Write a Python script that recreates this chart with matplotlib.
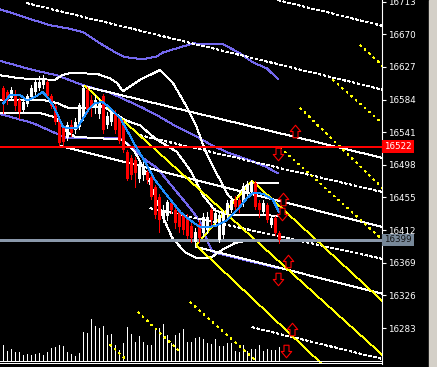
import matplotlib
matplotlib.use('Agg')
import matplotlib.pyplot as plt
import matplotlib.transforms as mtransforms
from matplotlib.patches import Rectangle
from matplotlib.path import Path
import numpy as np

plt.rcParams['lines.antialiased'] = False

# ---------------- data ----------------
opens = [16599,16594,16586,16592,16583,16570,16578,16587,16594,16599,
         16603,16607,16589,16575,16557,16546,16534,16550,16544,16548,
         16560,16596,16583,16573,16565,16589,16550,16554,16566,16560,
         16550,16515,16507,16504,16480,16484,16488,16482,16469,16456,
         16428,16431,16448,16438,16436,16432,16429,16417,16396,16420,
         16408,16412,16438,16421,16399,16405,16432,16438,16452,16452,
         16448,16461,16462,16474,16448,16436,16445,16419,16428,16408]
closes = [16583,16583,16596,16575,16567,16581,16589,16599,16607,16607,
          16611,16589,16575,16554,16527,16528,16550,16540,16554,16577,
          16599,16570,16575,16583,16581,16544,16562,16567,16544,16530,
          16517,16480,16484,16487,16498,16494,16478,16456,16432,16425,
          16437,16449,16438,16421,16416,16412,16404,16401,16409,16401,
          16429,16429,16425,16434,16432,16434,16448,16452,16442,16441,
          16470,16473,16475,16442,16438,16448,16425,16428,16408,16399]
highs = [16602,16596,16600,16596,16586,16583,16591,16603,16612,16615,
         16616,16610,16591,16578,16560,16549,16554,16557,16560,16579,
         16603,16600,16590,16590,16586,16592,16567,16570,16570,16563,
         16557,16517,16511,16508,16502,16504,16491,16484,16471,16460,
         16445,16452,16452,16442,16438,16434,16433,16422,16415,16425,
         16434,16436,16441,16441,16436,16438,16452,16457,16457,16456,
         16474,16477,16478,16477,16452,16452,16448,16432,16431,16411]
lows = [16566,16578,16583,16570,16560,16566,16575,16585,16590,16596,
        16599,16586,16573,16552,16521,16524,16531,16536,16540,16545,
        16557,16566,16563,16566,16560,16540,16546,16550,16540,16527,
        16515,16478,16480,16469,16475,16478,16474,16453,16428,16409,
        16423,16425,16435,16415,16409,16407,16401,16396,16391,16396,
        16404,16408,16420,16417,16396,16401,16428,16436,16438,16436,
        16444,16457,16460,16440,16429,16433,16423,16416,16405,16395]
volumes = [160,100,120,90,90,60,70,60,70,80,
           60,90,130,140,160,150,90,70,50,80,
           290,280,420,350,330,350,260,270,160,110,
           180,340,270,190,250,190,160,160,310,330,
           370,260,180,260,280,320,190,190,230,240,
           220,180,170,220,150,150,180,180,100,90,
           160,100,120,120,160,100,120,110,110,140]

price_ticks = [16283, 16326, 16369, 16412, 16455, 16498, 16541, 16584, 16627, 16670, 16713]
red_level = 16522
last_price = 16399

# Bollinger-type bands (white)
bb_hi_x = [-0.8, 4.2, 12.9, 14.7, 16.7, 23.4, 26.7, 28.4, 29.9, 34.2, 39.2, 42.4, 45.9, 48.4, 50.4, 52.2, 54.2, 56.2, 57.9, 59.7, 61.7, 68.7]
bb_hi_y = [16616, 16612, 16610, 16616, 16619, 16618, 16612, 16606, 16595, 16610, 16623, 16606, 16574, 16547, 16518, 16498, 16478, 16458, 16449, 16465, 16474, 16474]
bb_mid_x = [-0.8, 10.4, 13.7, 16.2, 20.4, 24.9, 27.9, 30.4, 34.2, 37.9, 43.4, 46.7, 49.9, 52.9, 56.7, 61.7, 68.9]
bb_mid_y = [16583, 16583, 16579, 16573, 16573, 16575, 16566, 16557, 16550, 16533, 16515, 16491, 16458, 16438, 16432, 16432, 16431]
bb_lo_x = [-0.8, 9.2, 12.9, 15.4, 17.9, 24.2, 29.9, 32.9, 35.9, 39.7, 42.2, 45.4, 48.4, 51.7, 54.7, 57.9, 61.7, 68.9]
bb_lo_y = [16566, 16566, 16561, 16544, 16535, 16533, 16531, 16515, 16485, 16432, 16402, 16383, 16375, 16375, 16386, 16395, 16399, 16399]

# envelope bands (slate blue)
env_hi_x = [-0.8, 7.4, 11.7, 15.9, 19.9, 24.2, 28.4, 30.4, 34.9, 38.4, 39.9, 47.4, 54.9, 59.2, 62.4, 65.9, 68.7]
env_hi_y = [16703, 16689, 16682, 16678, 16673, 16658, 16645, 16640, 16637, 16641, 16646, 16658, 16657, 16645, 16633, 16625, 16611]
env_mid_x = [-0.8, 7.4, 13.4, 19.9, 26.7, 34.9, 39.2, 43.4, 48.4, 52.4, 56.7, 61.7, 65.4, 68.7]
env_mid_y = [16635, 16623, 16616, 16603, 16593, 16573, 16561, 16548, 16535, 16523, 16513, 16504, 16496, 16487]
env_lo_x = [-0.8, 7.4, 15.9, 29.2, 31.7, 34.9, 38.4, 43.4, 46.7, 49.2, 50.9, 52.4, 59.2, 68.7]
env_lo_y = [16565, 16553, 16533, 16533, 16523, 16507, 16494, 16462, 16441, 16423, 16399, 16383, 16374, 16362]

# moving average (dodger blue)
ma_x = [0, 1.7, 4.2, 5.9, 7.4, 9.9, 11.7, 13.4, 14.9, 16.7, 18.4, 19.7, 21.2, 22.9, 24.7, 26.7, 29.2, 31.2, 32.9, 34.9,
        37.9, 40.9, 44.2, 46.7, 49.2, 52.9, 55.9, 58.4, 60.9, 62.4, 64.9, 67.4, 68.9]
ma_y = [16579, 16590, 16590, 16583, 16586, 16594, 16583, 16566, 16548, 16546, 16546, 16557, 16570, 16579, 16581, 16573,
        16560, 16541, 16524, 16507, 16478, 16458, 16436, 16425, 16416, 16417, 16425, 16438, 16454, 16461, 16460, 16452, 16436]

# trend lines: (x0, p0, x1, p1)
white_lines = [(19.9, 16602, 94.9, 16507), (14.2, 16523, 94.9, 16416), (48.2, 16390, 94.9, 16328)]
white_dashed = [(68.7, 16715, 94.9, 16681), (5.9, 16711, 94.9, 16597), (34.2, 16537, 94.9, 16462),
                (36.7, 16441, 94.9, 16374), (62.2, 16284, 94.9, 16242)]
yellow_lines = [(48.2, 16392, 62.2, 16477), (20.4, 16602, 94.9, 16247), (62.2, 16477, 94.9, 16318),
                (48.2, 16392, 82.0, 16224)]
yellow_dashed = [(69.2, 16521, 94.9, 16399), (74.2, 16573, 94.9, 16467), (82.4, 16610, 94.9, 16552),
                 (89.2, 16656, 94.9, 16628), (33.7, 16304, 43.7, 16254), (46.7, 16317, 62.9, 16241),
                 (26.7, 16261, 30.4, 16243)]

arrow_up_x = [72.9, 69.9, 71.2, 72.2]
arrow_up_y = [16543, 16453, 16371, 16282]
arrow_dn_x = [68.7, 69.7, 68.7, 70.7]
arrow_dn_y = [16512, 16433, 16348, 16253]

# ---------------- figure ----------------
W, H = 437, 367
fig = plt.figure(figsize=(W / 100, H / 100), dpi=100, facecolor='black')
rect = [0, 3 / H, 382 / W, 364 / H]

axv = fig.add_axes(rect)
axv.set_facecolor('black')
ax = fig.add_axes(rect)
ax.patch.set_alpha(0)

ylo, yhi = 16235.6, 16715.2
xlo, xhi = -0.825, 94.675
ax.set_xlim(xlo, xhi)
ax.set_ylim(ylo, yhi)
axv.set_xlim(xlo, xhi)
axv.set_ylim(-30, 3610)
axv.axis('off')

x = np.arange(len(opens))
o = np.array(opens, float); c = np.array(closes, float)
h = np.array(highs, float); l = np.array(lows, float)

# volume
axv.vlines(x, 0, volumes, colors='white', lw=0.72, antialiased=False)

LW = 0.7
for xs, ys in [(env_hi_x, env_hi_y), (env_mid_x, env_mid_y), (env_lo_x, env_lo_y)]:
    ax.plot(xs, ys, color='#7468ee', lw=LW, zorder=3)
for xs, ys in [(bb_hi_x, bb_hi_y), (bb_mid_x, bb_mid_y), (bb_lo_x, bb_lo_y)]:
    ax.plot(xs, ys, color='white', lw=LW, zorder=3)
ax.plot(ma_x, ma_y, color='#1e90ff', lw=LW, zorder=6)

for (x0, p0, x1, p1) in white_lines:
    ax.plot([x0, x1], [p0, p1], color='white', lw=LW, zorder=3)
for (x0, p0, x1, p1) in white_dashed:
    ax.plot([x0, x1], [p0, p1], color='white', lw=LW, ls=(0, (3.0, 3.0)), zorder=3)
for (x0, p0, x1, p1) in yellow_lines:
    ax.plot([x0, x1], [p0, p1], color='#ffff00', lw=0.5, zorder=3)
for (x0, p0, x1, p1) in yellow_dashed:
    ax.plot([x0, x1], [p0, p1], color='#ffff00', lw=0.6, ls=(0, (2.0, 6.0)), zorder=3)

ax.axhline(red_level, color='#ff0000', lw=1.1, zorder=4)
ax.axhline(last_price, color='#8a98aa', lw=0.9, zorder=4)

# candles
cols = ['white' if cc >= oo else '#ff0000' for oo, cc in zip(o, c)]
ax.vlines(x, l, h, colors=cols, lw=0.72, zorder=5, antialiased=False)
body = np.maximum(np.abs(c - o), 1.4)
ax.bar(x, body, bottom=np.minimum(o, c), width=0.68, color=cols, linewidth=0, zorder=5, antialiased=False)

# hollow arrow markers
up_path = Path([(-0.2, -0.5), (0.2, -0.5), (0.2, 0.0), (0.42, 0.0), (0.0, 0.5),
                (-0.42, 0.0), (-0.2, 0.0), (-0.2, -0.5)],
               [Path.MOVETO] + [Path.LINETO] * 6 + [Path.CLOSEPOLY])
dn_path = Path([(-0.2, 0.5), (0.2, 0.5), (0.2, 0.0), (0.42, 0.0), (0.0, -0.5),
                (-0.42, 0.0), (-0.2, 0.0), (-0.2, 0.5)],
               [Path.MOVETO] + [Path.LINETO] * 6 + [Path.CLOSEPOLY])
ax.plot(arrow_up_x, arrow_up_y, ls='none', marker=up_path, markersize=9, markerfacecolor='black',
        markeredgecolor='#ff0000', markeredgewidth=0.8, zorder=7)
ax.plot(arrow_dn_x, arrow_dn_y, ls='none', marker=dn_path, markersize=9, markerfacecolor='black',
        markeredgecolor='#ff0000', markeredgewidth=0.8, zorder=7)

# axes styling
ax.set_xticks([])
ax.yaxis.tick_right()
ax.set_yticks(price_ticks)
ax.set_yticklabels([str(t) for t in price_ticks])
ax.tick_params(axis='y', colors='white', labelsize=6.3, length=3, width=0.8, pad=1.5, direction='out')
for s in ['top', 'left', 'bottom']:
    ax.spines[s].set_visible(False)
ax.spines['right'].set_color('white')
ax.spines['right'].set_linewidth(0.8)

# bottom double line
for f in (3 / 364, 1 / 364):
    ax.plot([0, 1], [f, f], transform=ax.transAxes, color='white', lw=0.72, clip_on=False, zorder=8)

trans = mtransforms.blended_transform_factory(ax.transAxes, ax.transData)
ax.text(1.006, red_level, str(red_level), transform=trans, ha='left', va='center', fontsize=6.3,
        color='white', bbox=dict(boxstyle='square,pad=0.22', fc='#ff0000', ec='none'), clip_on=False, zorder=10)
ax.text(1.006, last_price, str(last_price), transform=trans, ha='left', va='center', fontsize=6.3,
        color='#101010', bbox=dict(boxstyle='square,pad=0.22', fc='#778899', ec='none'), clip_on=False, zorder=10)

fig.patches.append(Rectangle((429 / W, 0), 8 / W, 1, transform=fig.transFigure, color='#d4d0c8', zorder=0))

fig.savefig('out.png', dpi=100, facecolor='black')
